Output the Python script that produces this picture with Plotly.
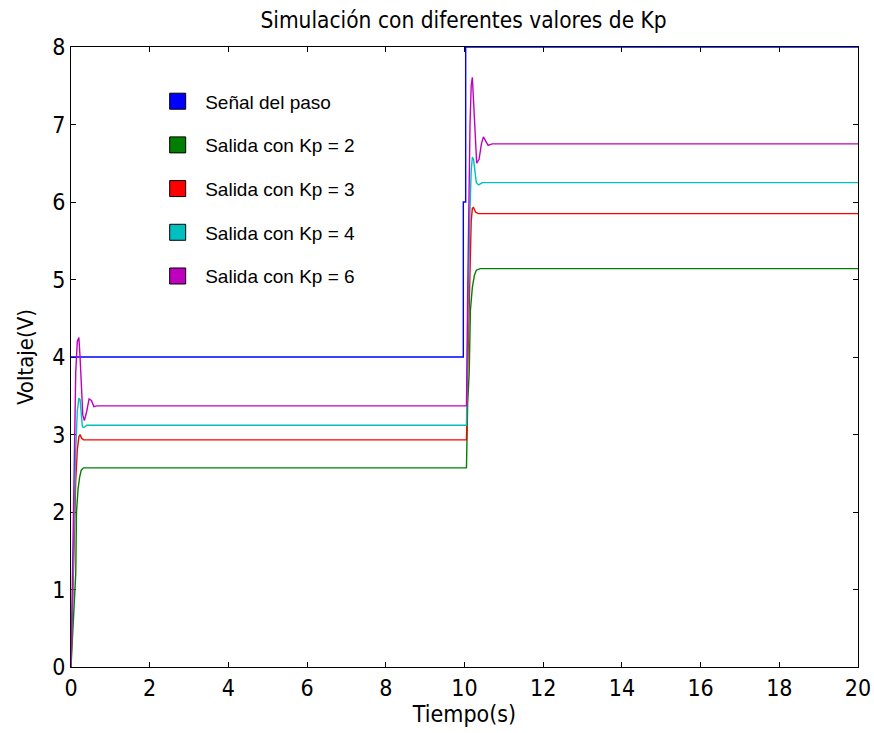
import plotly.graph_objects as go

# ---- data ----
t_paso = [0, 9.97, 9.97, 10.03, 10.03, 20]
v_paso = [4, 4, 6, 6, 8, 8]

t_kp2 = [0, 0.04, 0.08, 0.12, 0.14, 0.18, 0.22, 0.26, 0.32, 0.4,
         10.05, 10.08, 10.12, 10.15, 10.2, 10.25, 10.3, 10.4, 20]
v_kp2 = [0, 0.4, 0.8, 1.2, 2.0, 2.3, 2.45, 2.54, 2.57, 2.57,
         2.57, 3.4, 3.8, 4.6, 4.9, 5.05, 5.12, 5.14, 5.14]

t_kp3 = [0, 0.04, 0.08, 0.12, 0.16, 0.2, 0.23, 0.27, 0.32, 0.4,
         10.05, 10.08, 10.11, 10.14, 10.17, 10.2, 10.23, 10.28, 10.35, 20]
v_kp3 = [0, 0.8, 1.6, 2.4, 2.8, 2.97, 3.0, 2.95, 2.93, 2.93,
         2.93, 3.8, 4.6, 5.3, 5.75, 5.92, 5.93, 5.87, 5.85, 5.85]

t_kp4 = [0, 0.04, 0.08, 0.12, 0.16, 0.2, 0.23, 0.26, 0.29, 0.33, 0.4, 0.5,
         10.05, 10.08, 10.11, 10.14, 10.17, 10.2, 10.23, 10.26, 10.3, 10.36, 10.45, 20]
v_kp4 = [0, 1.0, 2.0, 2.8, 3.3, 3.47, 3.45, 3.25, 3.1, 3.09, 3.12, 3.12,
         3.12, 4.2, 5.2, 5.9, 6.4, 6.58, 6.55, 6.4, 6.25, 6.22, 6.25, 6.25]

t_kp6 = [0, 0.04, 0.08, 0.12, 0.16, 0.2, 0.23, 0.26, 0.3, 0.34, 0.4, 0.46, 0.52, 0.58, 0.66, 0.8,
         10.05, 10.08, 10.11, 10.14, 10.17, 10.2, 10.23, 10.27, 10.31, 10.37, 10.43, 10.48,
         10.54, 10.6, 10.7, 20]
v_kp6 = [0, 1.4, 2.8, 3.8, 4.2, 4.25, 4.0, 3.6, 3.25, 3.18, 3.3, 3.46, 3.44, 3.36, 3.37, 3.37,
         3.37, 4.8, 6.0, 7.0, 7.5, 7.61, 7.3, 6.8, 6.5, 6.55, 6.75, 6.84,
         6.78, 6.73, 6.75, 6.75]

names = ["Señal del paso", "Salida con Kp = 2", "Salida con Kp = 3",
         "Salida con Kp = 4", "Salida con Kp = 6"]
colors = ["#0000FF", "#007F00", "#FF0000", "#00BFBF", "#BF00BF"]
series = [(t_paso, v_paso), (t_kp2, v_kp2), (t_kp3, v_kp3), (t_kp4, v_kp4), (t_kp6, v_kp6)]

NARROW = "DejaVu Sans Condensed, Liberation Sans Narrow, sans-serif"
REGULAR = "Liberation Sans, Arial, sans-serif"

fig = go.Figure()
for i in range(len(series)):
    t, v = series[i]
    fig.add_trace(go.Scatter(x=t, y=v, mode="lines", line=dict(color=colors[i], width=1.4),
                             showlegend=False, hoverinfo="skip"))
# legend entries: coloured squares with black outline
for i, name in enumerate(names):
    fig.add_trace(go.Scatter(x=[None], y=[None], mode="markers", name=name,
                             legendgroup=str(i),
                             marker=dict(symbol="square", size=16, color=colors[i],
                                         line=dict(color="black", width=1))))

axis_common = dict(showline=True, linecolor="black", linewidth=1, mirror="ticks",
                   ticks="inside", ticklen=5, tickcolor="black", showgrid=False,
                   zeroline=False, layer="below traces", automargin=False,
                   tickfont=dict(family=NARROW, size=23, color="black"))

fig.update_layout(
    width=874, height=733,
    margin=dict(l=71, r=16, t=47, b=66),
    paper_bgcolor="white", plot_bgcolor="white",
    title=dict(text="Simulación con diferentes valores de Kp", x=0.5304, xanchor="center",
               y=0.972, yanchor="middle", font=dict(family=NARROW, size=22.5, color="black")),
    xaxis=dict(range=[0, 20], dtick=2, tick0=0,
               title=dict(text="Tiempo(s)", font=dict(family=NARROW, size=23, color="black"),
                          standoff=4),
               **axis_common),
    yaxis=dict(range=[0, 8], dtick=1, tick0=0,
               title=dict(text="Voltaje(V)", font=dict(family=NARROW, size=22, color="black"),
                          standoff=12),
               **axis_common),
    legend=dict(x=0.1006, y=0.943, xanchor="left", yanchor="top",
                bgcolor="rgba(0,0,0,0)", borderwidth=0, itemwidth=45,
                tracegroupgap=16, font=dict(family=REGULAR, size=19, color="black")),
)

fig.write_html("out.html")
